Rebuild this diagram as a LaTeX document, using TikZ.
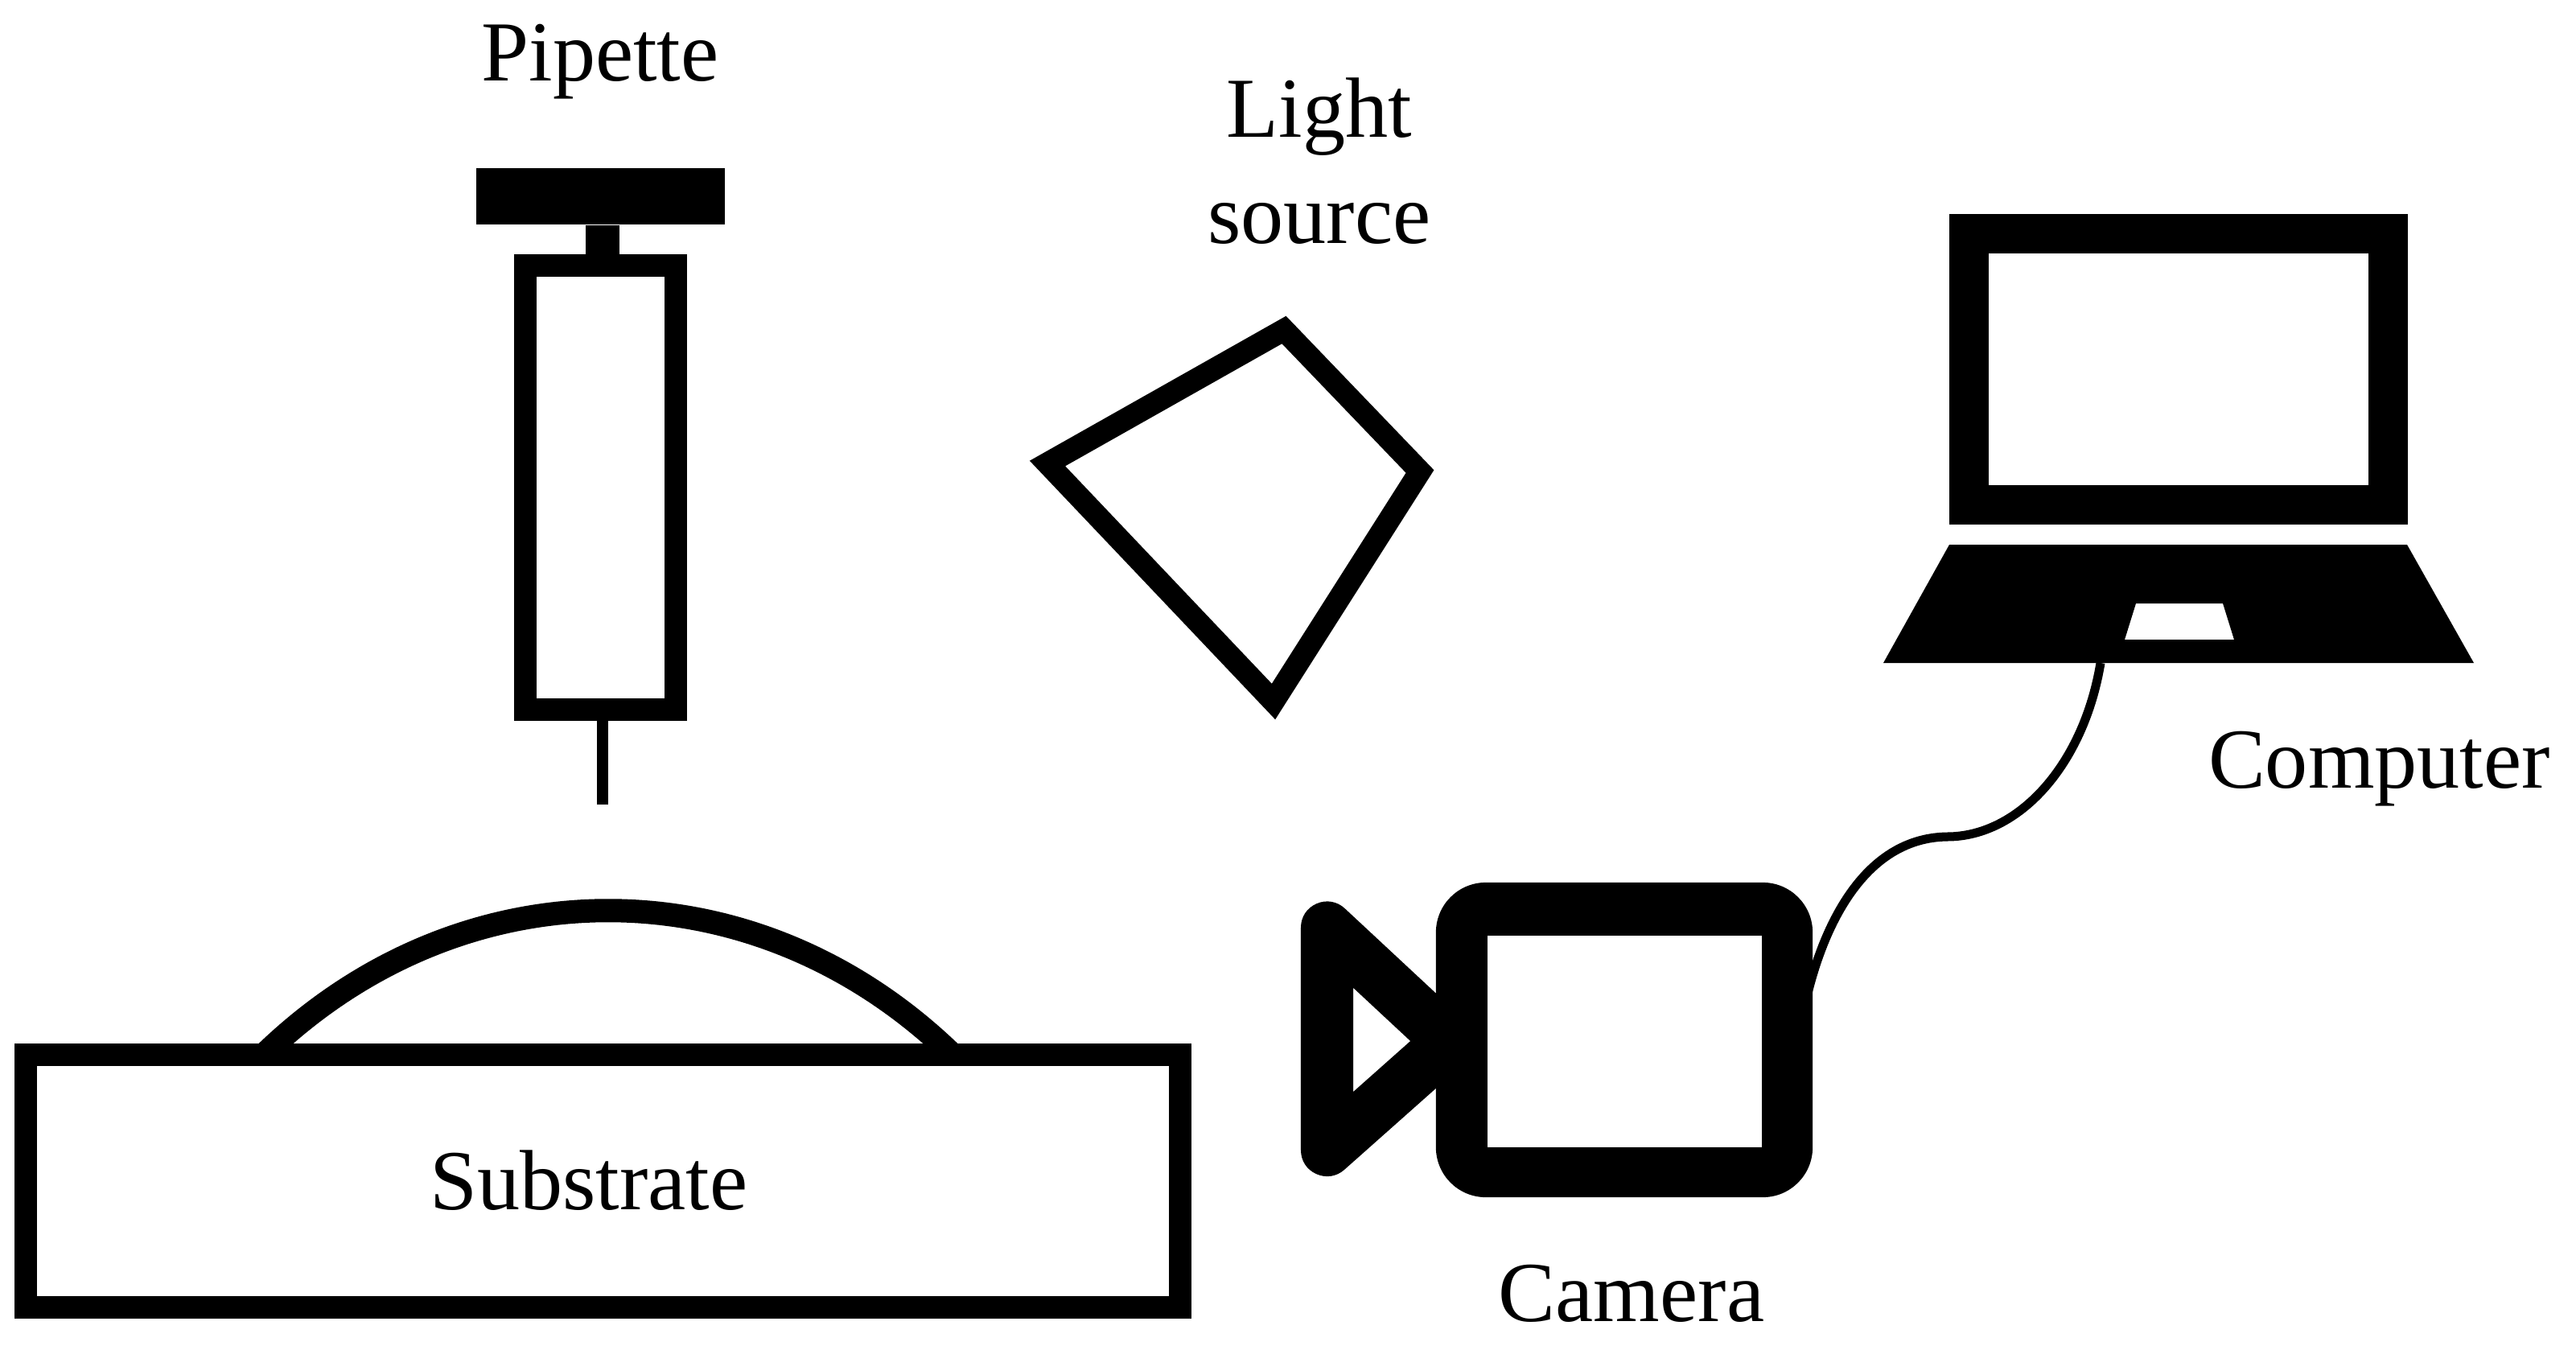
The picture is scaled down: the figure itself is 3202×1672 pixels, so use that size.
\documentclass[tikz,border=0pt]{standalone}
\usepackage{fontspec}
\setmainfont{Liberation Serif}
\usetikzlibrary{positioning,backgrounds}

\begin{document}
\begin{tikzpicture}[
  x=0.01cm, y=-0.01cm,
  note/.style={font=\fontsize{30.2}{37.3}\selectfont, inner sep=0pt, align=center, anchor=base},
  ringbox/.style={draw=black, fill=white, inner sep=0pt},
  solidbox/.style={fill=black, inner sep=0pt},
  needleline/.style={draw=black, line width=1.4mm},
  stemline/.style={draw=black, line width=4.2mm},
  dropline/.style={draw=black, line width=2.9mm},
  lampline/.style={draw=black, line width=2.75mm, line join=miter},
  lensline/.style={draw=black, line width=6.5mm, line join=round},
  cable/.style={draw=black, line width=1.1mm},
]
\useasboundingbox (0,0) rectangle (3202,1672);

% ---- pipette ----
\coordinate (tip) at (749,1000);
\node[solidbox, minimum width=3.09cm, minimum height=0.7cm] (plate) at (746.5,244) {};
\node[ringbox, line width=2.8mm, minimum width=1.87cm, minimum height=5.52cm] (barrel) at (746.5,606) {};
\draw[stemline] (plate.south -| tip) -- (barrel.north -| tip);
\draw[needleline] (barrel.south -| tip) -- (tip);
\node[note] (pipettelabel) at (746,100) {Pipette};

% ---- droplet on the substrate ----
\coordinate (dropl) at (328,1311);
\coordinate (dropr) at (1184,1311);
\draw[dropline] (dropl) .. controls (574,1072) and (938,1072) .. (dropr);
\node[ringbox, line width=2.8mm, minimum width=14.35cm, minimum height=3.135cm] (substrate) at (749.5,1468) {};
\node[note] (substratelabel) at (732,1503) {Substrate};

% ---- light source ----
\draw[lampline] (1302,576) -- (1596,410) -- (1765,586) -- (1583,872) -- cycle;
\node[note] (lightlabel) at (1640,302) {Light\\source};

% ---- laptop ----
\node[ringbox, line width=4.9mm, minimum width=5.2cm, minimum height=3.365cm] (screen) at (2708,459) {};
\fill[black, even odd rule] (2423,677) -- (2992,677) -- (3075,824) -- (2341,824) -- cycle
  (2655,750) -- (2763,750) -- (2777,795) -- (2641,795) -- cycle;
\coordinate (basefoot) at (2611,824);
\node[note] (computerlabel) at (2957.5,979) {Computer};

% ---- camera and its cable ----
\coordinate (cablebend) at (2420,1040);
\draw[lensline] (1649.5,1153) -- (1801.5,1294.5) -- (1649.5,1429.5) -- cycle;
\node[solidbox, rounded corners=6.2mm, minimum width=4.68cm, minimum height=3.91cm] (camera) at (2019,1292.5) {};
\node[fill=white, inner sep=0pt, minimum width=3.41cm, minimum height=2.63cm] (viewfinder) at (2019.5,1294.5) {};
\coordinate (cablefoot) at ([xshift=-1.8mm]camera.east);
\begin{scope}[on background layer]
  \draw[cable] (cablefoot) .. controls (2250,1190) and (2300,1042) .. (cablebend)
    .. controls (2510,1040) and (2590,950) .. (basefoot);
\end{scope}
\node[note] (cameralabel) at (2028,1642) {Camera};

\end{tikzpicture}
\end{document}
